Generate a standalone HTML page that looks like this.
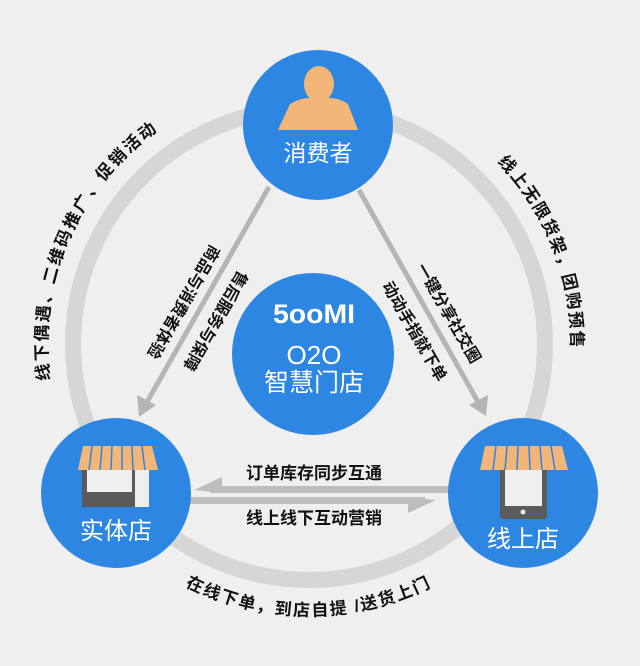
<!DOCTYPE html>
<html><head><meta charset="utf-8"><style>
html,body{margin:0;padding:0;background:#efefef;}
svg{display:block;}
text{font-family:"Liberation Sans","Noto Sans CJK SC",sans-serif;}
</style></head><body>
<svg width="640" height="666" viewBox="0 0 640 666" xmlns="http://www.w3.org/2000/svg">
<rect width="640" height="666" fill="#efefef"/>
<circle cx="309" cy="344" r="236" fill="none" stroke="#d6d6d6" stroke-width="16"/>
<defs>
<path id="pl" d="M 50,380 A 262 262 0 0 1 163,127"/>
<path id="pr" d="M 497,162 A 262 262 0 0 1 571,353"/>
<path id="pb" d="M 185,586 A 272 272 0 0 0 437,584"/>
</defs>
<g font-size="17" fill="#111" font-weight="bold">
<text><textPath href="#pl" textLength="285" lengthAdjust="spacing">线下偶遇、二维码推广、促销活动</textPath></text>
<text><textPath href="#pr" textLength="205" lengthAdjust="spacing">线上无限货架，团购预售</textPath></text>
<text><textPath href="#pb" textLength="255" lengthAdjust="spacing">在线下单，到店自提 /送货上门</textPath></text>
</g>
<line x1="269" y1="187" x2="147" y2="402" stroke="#b5b5b5" stroke-width="5"/>
<polygon points="139,417 137,395 156,405" fill="#b5b5b5"/>
<line x1="359" y1="190" x2="478" y2="402" stroke="#b5b5b5" stroke-width="5"/>
<polygon points="486,416 469,405 488,395" fill="#b5b5b5"/>
<rect x="210" y="486" width="240" height="7" fill="#bdbdbd"/>
<polygon points="194,490 222,477 222,493" fill="#bdbdbd"/>
<rect x="190" y="497" width="235" height="7" fill="#bdbdbd"/>
<polygon points="436,500 408,497 408,513" fill="#bdbdbd"/>
<g font-size="17" fill="#111" font-weight="bold" text-anchor="middle">
<text x="314" y="479">订单库存同步互通</text>
<text x="314" y="524">线上线下互动营销</text>
</g>
<g font-size="16" fill="#111" font-weight="bold" text-anchor="middle">
<text transform="translate(184,302) rotate(120)" dy="6">商品与消费者体验</text>
<text transform="translate(216,321) rotate(120)" dy="6">售后服务与保障</text>
<text transform="translate(449,313) rotate(60)" dy="6">一键分享社交圈</text>
<text transform="translate(415,331) rotate(60)" dy="6">动动手指就下单</text>
</g>
<circle cx="318" cy="125" r="75" fill="#2e86e3"/>
<ellipse cx="319" cy="84" rx="15" ry="18" fill="#f2b679"/>
<path d="M 278,130 L 290,104 Q 300,98 310,98 L 328,98 Q 340,98 348,104 L 358,130 Z" fill="#f2b679"/>
<text x="318" y="161" font-size="23" fill="#fff" text-anchor="middle">消费者</text>
<circle cx="313" cy="354" r="81" fill="#2e86e3"/>
<text x="314" y="323" font-size="27" fill="#fff" font-weight="bold" text-anchor="middle" textLength="82" lengthAdjust="spacingAndGlyphs">5ooMI</text>
<text x="314" y="364" font-size="26" fill="#fff" text-anchor="middle">O2O</text>
<text x="314" y="391" font-size="25" fill="#fff" text-anchor="middle">智慧门店</text>
<circle cx="116" cy="493" r="75" fill="#2e86e3"/>
<rect x="82" y="470" width="54" height="37" fill="#5b5b5b"/>
<rect x="87" y="470" width="45" height="22" fill="#efefef"/>
<rect x="135" y="470" width="14" height="37" fill="#efefef"/>
<path d="M 78,470 L 83,446 L 152,446 L 158,470 Z" fill="#f2b679"/>
<g stroke="#2e86e3" stroke-width="1.5">
<line x1="92" y1="446" x2="89" y2="470"/><line x1="102" y1="446" x2="100" y2="470"/><line x1="112" y1="446" x2="111" y2="470"/><line x1="122" y1="446" x2="122" y2="470"/><line x1="132" y1="446" x2="133" y2="470"/><line x1="142" y1="446" x2="145" y2="470"/>
</g>
<text x="116" y="539" font-size="24" fill="#fff" text-anchor="middle">实体店</text>
<circle cx="523" cy="493" r="75" fill="#2e86e3"/>
<rect x="500" y="468" width="47" height="51" rx="3" fill="#5b5b5b"/>
<rect x="505" y="470" width="37" height="36" fill="#efefef"/>
<circle cx="523" cy="512" r="2.5" fill="#efefef"/>
<path d="M 480,470 L 485,446 L 562,446 L 568,470 Z" fill="#f2b679"/>
<g stroke="#2e86e3" stroke-width="1.5">
<line x1="496" y1="446" x2="493" y2="470"/><line x1="507" y1="446" x2="505" y2="470"/><line x1="518" y1="446" x2="517" y2="470"/><line x1="529" y1="446" x2="530" y2="470"/><line x1="540" y1="446" x2="542" y2="470"/><line x1="551" y1="446" x2="555" y2="470"/>
</g>
<text x="523" y="547" font-size="24" fill="#fff" text-anchor="middle">线上店</text>
</svg>
</body></html>
